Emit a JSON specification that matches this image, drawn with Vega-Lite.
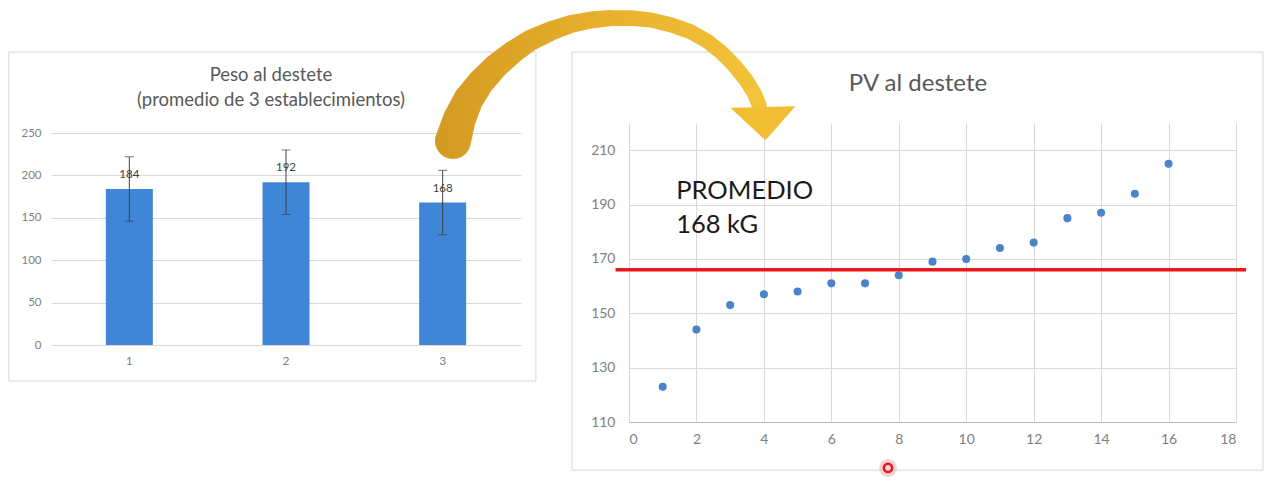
{
  "$schema": "https://vega.github.io/schema/vega-lite/v6.json",
  "background": "white",
  "padding": {"left": 8, "top": 10, "right": 10, "bottom": 5},
  "spacing": 108,
  "bounds": "flush",
  "config": {"view": {"stroke": null}, "font": "Lato"},
  "hconcat": [
    {
      "width": 470,
      "height": 222,
      "title": {"text": ["Peso al destete", "(promedio de 3 establecimientos)"], "fontSize": 18.5, "fontWeight": "normal", "color": "#595959", "dx": -15, "offset": 14, "lineHeight": 25},
      "data": {"values": [
        {"est": "1", "peso": 184, "lo": 146, "hi": 222},
        {"est": "2", "peso": 192, "lo": 154, "hi": 230},
        {"est": "3", "peso": 168, "lo": 130, "hi": 206}
      ]},
      "encoding": {
        "x": {"field": "est", "type": "ordinal", "scale": {"paddingInner": 0.7, "paddingOuter": 0.35},
          "axis": {"title": null, "labelAngle": 0, "ticks": false, "domainColor": "#d9d9d9", "labelColor": "#7f7f7f", "labelFontSize": 12, "labelPadding": 10}}
      },
      "layer": [
        {
          "mark": {"type": "bar", "color": "#3F86D6"},
          "encoding": {
            "y": {"field": "peso", "type": "quantitative", "scale": {"domain": [0, 261.8], "nice": false},
              "axis": {"title": null, "values": [0, 50, 100, 150, 200, 250], "domain": false, "ticks": false, "gridColor": "#d9d9d9", "labelColor": "#7f7f7f", "labelFontSize": 11.5, "labelPadding": 10}}
          }
        },
        {
          "mark": {"type": "rule", "color": "#404040", "strokeWidth": 1},
          "encoding": {"y": {"field": "lo", "type": "quantitative"}, "y2": {"field": "hi"}}
        },
        {
          "mark": {"type": "tick", "color": "#404040", "thickness": 1, "size": 9, "orient": "horizontal"},
          "encoding": {"y": {"field": "lo", "type": "quantitative"}}
        },
        {
          "mark": {"type": "tick", "color": "#404040", "thickness": 1, "size": 9, "orient": "horizontal"},
          "encoding": {"y": {"field": "hi", "type": "quantitative"}}
        },
        {
          "mark": {"type": "text", "fontSize": 11.5, "color": "#404040", "baseline": "bottom", "dy": -9},
          "encoding": {"y": {"field": "peso", "type": "quantitative"}, "text": {"field": "peso"}}
        }
      ]
    },
    {
      "width": 607,
      "height": 299,
      "layer": [
        {
          "data": {"values": [
            {"panel": "izq", "bx0": -18.39, "bx1": -2.76, "by0": 125.1, "by1": 246.1},
            {"panel": "der", "bx0": -1.69, "bx1": 18.8, "by0": 92.3, "by1": 246.1}
          ]},
          "mark": {"type": "rect", "filled": false, "stroke": "#d6d6d6", "strokeWidth": 1, "clip": false},
          "encoding": {
            "x": {"field": "bx0", "type": "quantitative"}, "x2": {"field": "bx1"},
            "y": {"field": "by0", "type": "quantitative"}, "y2": {"field": "by1"}
          }
        },
        {
          "data": {"values": [
            {"n": 1, "pv": 123}, {"n": 2, "pv": 144}, {"n": 3, "pv": 153}, {"n": 4, "pv": 157},
            {"n": 5, "pv": 158}, {"n": 6, "pv": 161}, {"n": 7, "pv": 161}, {"n": 8, "pv": 164},
            {"n": 9, "pv": 169}, {"n": 10, "pv": 170}, {"n": 11, "pv": 174}, {"n": 12, "pv": 176},
            {"n": 13, "pv": 185}, {"n": 14, "pv": 187}, {"n": 15, "pv": 194}, {"n": 16, "pv": 205}
          ]},
          "mark": {"type": "point", "filled": true, "size": 65, "color": "#4A84C9", "opacity": 1},
          "encoding": {
            "x": {"field": "n", "type": "quantitative", "scale": {"domain": [0, 18], "nice": false},
              "axis": {"title": null, "values": [0, 2, 4, 6, 8, 10, 12, 14, 16, 18], "ticks": false, "domainColor": "#bfbfbf", "gridColor": "#d9d9d9", "labelColor": "#7f7f7f", "labelFontSize": 14, "labelPadding": 10}},
            "y": {"field": "pv", "type": "quantitative", "scale": {"domain": [110, 220], "nice": false, "zero": false},
              "axis": {"title": null, "values": [110, 130, 150, 170, 190, 210], "domain": false, "ticks": false, "gridColor": "#d9d9d9", "labelColor": "#7f7f7f", "labelFontSize": 14, "labelPadding": 14}}
          }
        },
        {
          "data": {"values": [{"prom": 166, "x0": -0.4, "x1": 18.3}]},
          "mark": {"type": "rule", "color": "#E81818", "strokeWidth": 3.5},
          "encoding": {"y": {"field": "prom", "type": "quantitative"}, "x": {"field": "x0", "type": "quantitative"}, "x2": {"field": "x1"}}
        },
        {
          "data": {"values": [{"tx": 1.4, "ty": 192, "label": "PROMEDIO\n168 kG"}]},
          "mark": {"type": "text", "align": "left", "baseline": "alphabetic", "fontSize": 25.5, "color": "#1a1a1a", "lineBreak": "\n", "lineHeight": 34},
          "encoding": {"x": {"field": "tx", "type": "quantitative"}, "y": {"field": "ty", "type": "quantitative"}, "text": {"field": "label"}}
        },
        {
          "data": {"values": [{"tx": 8.57, "ty": 231.8, "label": "PV al destete"}]},
          "mark": {"type": "text", "align": "center", "baseline": "alphabetic", "fontSize": 24, "color": "#595959", "clip": false},
          "encoding": {"x": {"field": "tx", "type": "quantitative"}, "y": {"field": "ty", "type": "quantitative"}, "text": {"field": "label"}}
        },
        {
          "data": {"values": [
            {"o": 1, "ax": -5.22, "ay": 213.4, "w": 36},
            {"o": 2, "ax": -5.04, "ay": 221.1, "w": 33},
            {"o": 3, "ax": -4.77, "ay": 228.5, "w": 30},
            {"o": 4, "ax": -4.39, "ay": 235.1, "w": 27},
            {"o": 5, "ax": -3.94, "ay": 241.0, "w": 25},
            {"o": 6, "ax": -3.44, "ay": 246.1, "w": 23},
            {"o": 7, "ax": -2.91, "ay": 250.5, "w": 21},
            {"o": 8, "ax": -2.31, "ay": 253.9, "w": 19.5},
            {"o": 9, "ax": -1.72, "ay": 256.4, "w": 18},
            {"o": 10, "ax": -1.13, "ay": 257.9, "w": 17},
            {"o": 11, "ax": -0.53, "ay": 258.6, "w": 16},
            {"o": 12, "ax": 0.06, "ay": 258.6, "w": 15.5},
            {"o": 13, "ax": 0.65, "ay": 257.9, "w": 15},
            {"o": 14, "ax": 1.25, "ay": 256.1, "w": 15},
            {"o": 15, "ax": 1.84, "ay": 253.5, "w": 15},
            {"o": 16, "ax": 2.31, "ay": 250.2, "w": 15},
            {"o": 17, "ax": 2.73, "ay": 246.1, "w": 15},
            {"o": 18, "ax": 3.11, "ay": 241.3, "w": 15},
            {"o": 19, "ax": 3.47, "ay": 235.8, "w": 15},
            {"o": 20, "ax": 3.71, "ay": 231.0, "w": 15},
            {"o": 21, "ax": 3.86, "ay": 226.6, "w": 15}
          ]},
          "mark": {"type": "trail", "clip": false, "color": {"gradient": "linear", "x1": 0, "y1": 1, "x2": 1, "y2": 1, "stops": [{"offset": 0, "color": "#D39A22"}, {"offset": 0.5, "color": "#E8B02C"}, {"offset": 1, "color": "#F3C43A"}]}},
          "encoding": {
            "x": {"field": "ax", "type": "quantitative"},
            "y": {"field": "ay", "type": "quantitative"},
            "order": {"field": "o"},
            "size": {"field": "w", "type": "quantitative", "scale": null, "legend": null}
          }
        },
        {
          "data": {"values": [{"hx": 3.97, "hy": 219.6}]},
          "mark": {"type": "point", "filled": true, "color": "#F1BE34", "opacity": 1, "size": 4225, "shape": "M -1 -0.5 L 1 -0.55 L 0.08 0.5 Z", "clip": false},
          "encoding": {"x": {"field": "hx", "type": "quantitative"}, "y": {"field": "hy", "type": "quantitative"}}
        },
        {
          "data": {"values": [{"cx": 7.68, "cy": 93.1}]},
          "layer": [
            {"mark": {"type": "point", "filled": true, "color": "#F6B3B3", "opacity": 0.6, "size": 320, "clip": false},
             "encoding": {"x": {"field": "cx", "type": "quantitative"}, "y": {"field": "cy", "type": "quantitative"}}},
            {"mark": {"type": "point", "filled": false, "color": "#E02020", "strokeWidth": 2.5, "opacity": 1, "size": 70, "clip": false},
             "encoding": {"x": {"field": "cx", "type": "quantitative"}, "y": {"field": "cy", "type": "quantitative"}}}
          ]
        }
      ]
    }
  ]
}
